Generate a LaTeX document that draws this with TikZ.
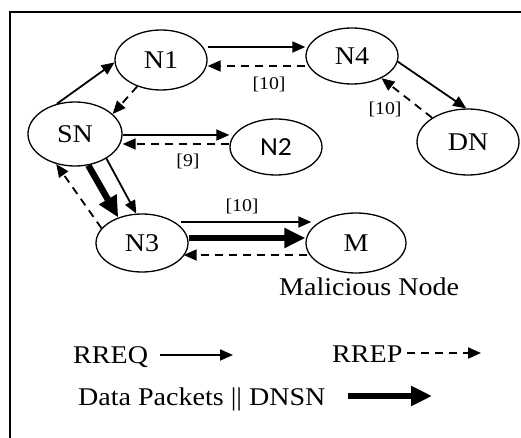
\documentclass[tikz,border=0pt]{standalone}
\usepackage{fontspec}
\setmainfont{Liberation Serif}[FakeStretch=1.1]
\newfontfamily\nodesans{Carlito}[FakeStretch=1.06]
\usetikzlibrary{shapes.geometric,arrows.meta}

\begin{document}
\begin{tikzpicture}[x=1pt,y=-1pt,
  host/.style={draw, ellipse, line width=1.3pt, inner sep=0pt,
    font=\fontsize{25.5}{28}\selectfont},
  req/.style={line width=1.8pt, -{Triangle[length=13pt,width=11pt]}},
  rep/.style={req, dash pattern=on 8pt off 6pt},
  data/.style={line width=6.5pt, -{Triangle[length=21pt,width=19pt]}},
  hop/.style={font=\fontsize{18}{20}\selectfont, inner sep=0pt},
  legend/.style={font=\fontsize{25.5}{28}\selectfont, inner sep=0pt, anchor=base west}]
\useasboundingbox (0,0) rectangle (521,438);

% frame
\draw[line width=1.8pt] (10,438) -- (10,12) -- (521,12);

% hosts
\node[host, minimum width=92pt,  minimum height=60pt] (N1) at (161,60)  {N1};
\node[host, minimum width=92pt,  minimum height=56pt] (N4) at (352,56)  {N4};
\node[host, minimum width=94pt,  minimum height=64pt] (SN) at (75,134)  {SN};
\node[host, minimum width=92pt,  minimum height=56pt, font=\nodesans\fontsize{26}{28}\selectfont] (N2) at (276,147) {N2};
\node[host, minimum width=102pt, minimum height=66pt] (DN) at (468,142) {DN};
\node[host, minimum width=92pt,  minimum height=58pt] (N3) at (142,243) {N3};
\node[host, minimum width=100pt, minimum height=60pt] (M)  at (356,243) {M};
\node[legend] (mal) at (279,295) {Malicious Node};

% route requests
\draw[req] (SN.121) -- (N1.183);
\draw[req] ([yshift=13pt]N1.east) -- ([yshift=9pt]N4.west);
\draw[req] (N4.-7) -- (DN.93);
\draw[req] ([yshift=-1pt]SN.east) -- ([yshift=12pt]N2.west);
\draw[req] (SN.-38) -- (N3.101);
\draw[req] ([shift={(-8pt,21pt)}]N3.east) -- ([shift={(6pt,21pt)}]M.west);

% route replies
\draw[rep] (N1.228) -- (SN.28);
\draw[rep] ([yshift=-10pt]N4.west) -- ([yshift=-6pt]N1.east);
\draw[rep] (DN.146) -- (N4.-37);
\draw[rep] ([yshift=3pt]N2.west) -- ([yshift=-10pt]SN.east);
\draw[rep] (N3.160) -- (SN.238);
\draw[rep] ([shift={(2pt,-12pt)}]M.west) -- ([shift={(-5pt,-12pt)}]N3.east);

% data packets
\draw[data] (SN.-67) -- (N3.133);
\draw[data] ([yshift=5pt]N3.east) -- ([yshift=5pt]M.west);

% hop counts
\node[hop] (h1) at (269,84)  {[10]};
\node[hop] (h2) at (385,109) {[10]};
\node[hop] (h3) at (188,161) {[9]};
\node[hop] (h4) at (242,206) {[10]};

% legend
\node[legend] (lq) at (73,363)  {RREQ};
\node[legend] (lp) at (332,362) {RREP};
\node[legend] (ld) at (78,405)  {Data Packets || DNSN};
\coordinate (q1) at (160,355);
\coordinate (q2) at (233,355);
\coordinate (p1) at (407,353);
\coordinate (p2) at (481,353);
\coordinate (d1) at (348,396);
\coordinate (d2) at (432,396);
\draw[req] (q1) -- (q2);
\draw[rep] (p1) -- (p2);
\draw[data] (d1) -- (d2);
\end{tikzpicture}
\end{document}
